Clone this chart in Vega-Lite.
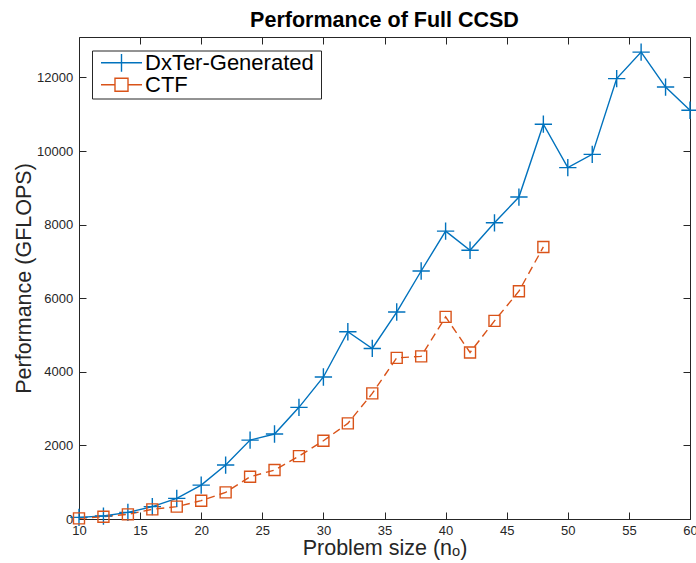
{
  "$schema": "https://vega.github.io/schema/vega-lite/v6.json",
  "width": 611,
  "height": 482,
  "autosize": {"type": "none"},
  "padding": {"left": 79, "top": 37, "right": 6, "bottom": 44},
  "background": "white",
  "config": {
    "view": {"stroke": null},
    "font": "Liberation Sans",
    "axis": {
      "grid": false,
      "domainColor": "#262626",
      "domainWidth": 1,
      "tickColor": "#262626",
      "tickWidth": 1,
      "tickSize": -7,
      "labelFlush": false,
      "labelFont": "Liberation Sans",
      "labelFontSize": 13,
      "labelColor": "#262626",
      "titleFont": "Liberation Sans",
      "titleFontSize": 21.5,
      "titleFontWeight": "normal",
      "titleColor": "#262626"
    }
  },
  "title": {
    "text": "Performance of Full CCSD",
    "font": "Liberation Sans",
    "fontSize": 21.5,
    "fontWeight": "bold",
    "color": "black",
    "anchor": "middle",
    "frame": "group",
    "offset": 5
  },
  "data": {
    "values": [
      {"n": 10, "perf": 45, "series": "DxTer-Generated"},
      {"n": 12, "perf": 80, "series": "DxTer-Generated"},
      {"n": 14, "perf": 180, "series": "DxTer-Generated"},
      {"n": 16, "perf": 335, "series": "DxTer-Generated"},
      {"n": 18, "perf": 560, "series": "DxTer-Generated"},
      {"n": 20, "perf": 920, "series": "DxTer-Generated"},
      {"n": 22, "perf": 1466, "series": "DxTer-Generated"},
      {"n": 24, "perf": 2145, "series": "DxTer-Generated"},
      {"n": 26, "perf": 2310, "series": "DxTer-Generated"},
      {"n": 28, "perf": 3035, "series": "DxTer-Generated"},
      {"n": 30, "perf": 3860, "series": "DxTer-Generated"},
      {"n": 32, "perf": 5090, "series": "DxTer-Generated"},
      {"n": 34, "perf": 4635, "series": "DxTer-Generated"},
      {"n": 36, "perf": 5625, "series": "DxTer-Generated"},
      {"n": 38, "perf": 6740, "series": "DxTer-Generated"},
      {"n": 40, "perf": 7825, "series": "DxTer-Generated"},
      {"n": 42, "perf": 7305, "series": "DxTer-Generated"},
      {"n": 44, "perf": 8050, "series": "DxTer-Generated"},
      {"n": 46, "perf": 8750, "series": "DxTer-Generated"},
      {"n": 48, "perf": 10730, "series": "DxTer-Generated"},
      {"n": 50, "perf": 9550, "series": "DxTer-Generated"},
      {"n": 52, "perf": 9910, "series": "DxTer-Generated"},
      {"n": 54, "perf": 11970, "series": "DxTer-Generated"},
      {"n": 56, "perf": 12690, "series": "DxTer-Generated"},
      {"n": 58, "perf": 11740, "series": "DxTer-Generated"},
      {"n": 60, "perf": 11110, "series": "DxTer-Generated"},
      {"n": 10, "perf": 18, "series": "CTF"},
      {"n": 12, "perf": 63, "series": "CTF"},
      {"n": 14, "perf": 127, "series": "CTF"},
      {"n": 16, "perf": 262, "series": "CTF"},
      {"n": 18, "perf": 335, "series": "CTF"},
      {"n": 20, "perf": 498, "series": "CTF"},
      {"n": 22, "perf": 724, "series": "CTF"},
      {"n": 24, "perf": 1149, "series": "CTF"},
      {"n": 26, "perf": 1330, "series": "CTF"},
      {"n": 28, "perf": 1710, "series": "CTF"},
      {"n": 30, "perf": 2126, "series": "CTF"},
      {"n": 32, "perf": 2598, "series": "CTF"},
      {"n": 34, "perf": 3413, "series": "CTF"},
      {"n": 36, "perf": 4380, "series": "CTF"},
      {"n": 38, "perf": 4420, "series": "CTF"},
      {"n": 40, "perf": 5493, "series": "CTF"},
      {"n": 42, "perf": 4526, "series": "CTF"},
      {"n": 44, "perf": 5384, "series": "CTF"},
      {"n": 46, "perf": 6191, "series": "CTF"},
      {"n": 48, "perf": 7394, "series": "CTF"}
    ]
  },
  "resolve": {"axis": {"x": "independent", "y": "independent"}},
  "layer": [
    {
      "transform": [{"filter": "datum.series === 'DxTer-Generated'"}],
      "mark": {"type": "line", "strokeWidth": 1.4, "clip": false},
      "encoding": {
        "x": {
          "field": "n", "type": "quantitative",
          "scale": {"domain": [10, 60], "nice": false, "zero": false},
          "axis": {
            "orient": "bottom",
            "values": [10, 15, 20, 25, 30, 35, 40, 45, 50, 55, 60],
            "title": "Problem size (nₒ)",
            "labelPadding": 12.5,
            "titlePadding": 0
          }
        },
        "y": {
          "field": "perf", "type": "quantitative",
          "scale": {"domain": [0, 13100], "nice": false},
          "axis": {
            "orient": "left",
            "values": [0, 2000, 4000, 6000, 8000, 10000, 12000],
            "format": "d",
            "title": "Performance (GFLOPS)",
            "labelPadding": 13.3,
            "titlePadding": 1
          }
        },
        "color": {
          "field": "series", "type": "nominal",
          "scale": {"domain": ["DxTer-Generated", "CTF"], "range": ["#0072BD", "#D95319"]},
          "legend": {
            "orient": "none",
            "legendX": 13,
            "legendY": 13.5,
            "title": null,
            "padding": 2,
            "rowPadding": -3.5,
            "clipHeight": 20.6,
            "fillColor": "white",
            "strokeColor": "#262626",
            "labelFont": "Liberation Sans",
            "labelFontSize": 22,
            "labelColor": "black",
            "labelLimit": 0,
            "labelExpr": "datum.label + '\u2009\u200b'",
            "symbolSize": 441,
            "symbolStrokeWidth": 1.4,
            "symbolOffset": 16,
            "labelOffset": 12,
            "encode": {
              "symbols": {
                "update": {
                  "shape": {"signal": "datum.value === 'CTF' ? 'M-1.95,0H-0.62M0.62,0H1.95M-0.62,-0.62H0.62V0.62H-0.62Z' : 'M-1.95,0H1.95M0,-0.85V0.85'"},
                  "fill": {"value": "transparent"}
                }
              }
            }
          }
        }
      }
    },
    {
      "transform": [{"filter": "datum.series === 'CTF'"}],
      "mark": {"type": "line", "strokeWidth": 1.4, "strokeDash": [8, 5], "color": "#D95319", "clip": false},
      "encoding": {
        "x": {"field": "n", "type": "quantitative", "axis": null},
        "y": {"field": "perf", "type": "quantitative", "axis": null}
      }
    },
    {
      "transform": [{"filter": "datum.series === 'DxTer-Generated'"}],
      "mark": {"type": "point", "shape": "M-1,0H1M0,-1V1", "size": 300, "filled": false, "color": "#0072BD", "strokeWidth": 1.4, "opacity": 1, "clip": false},
      "encoding": {
        "x": {"field": "n", "type": "quantitative", "axis": {"orient": "top", "labels": false, "title": null, "values": [10, 15, 20, 25, 30, 35, 40, 45, 50, 55, 60]}},
        "y": {"field": "perf", "type": "quantitative", "axis": {"orient": "right", "labels": false, "title": null, "values": [0, 2000, 4000, 6000, 8000, 10000, 12000]}}
      }
    },
    {
      "transform": [{"filter": "datum.series === 'CTF'"}],
      "mark": {"type": "point", "shape": "square", "size": 121, "filled": false, "color": "#D95319", "strokeWidth": 1.4, "opacity": 1, "clip": false},
      "encoding": {
        "x": {"field": "n", "type": "quantitative", "axis": null},
        "y": {"field": "perf", "type": "quantitative", "axis": null}
      }
    }
  ]
}
